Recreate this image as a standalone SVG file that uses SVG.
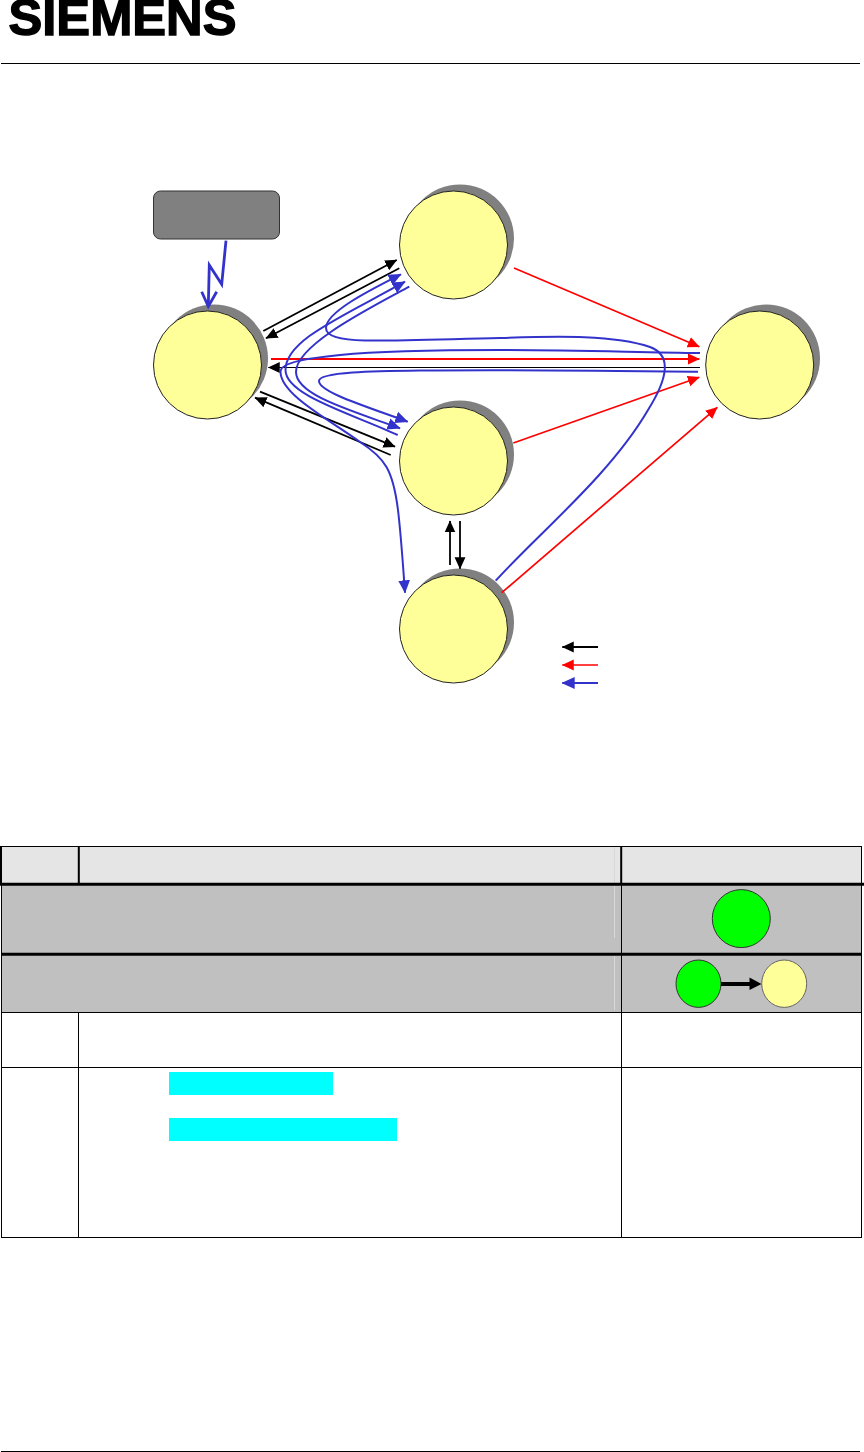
<svg xmlns="http://www.w3.org/2000/svg" width="864" height="1452" viewBox="0 0 864 1452">
<style>
.logo{font-family:"Liberation Sans",Arial,sans-serif;font-weight:700;font-size:50px;fill:#000;stroke:#000;stroke-width:1.4}
.shadow{fill:#808080}
.node{fill:#ffff99;stroke:#222;stroke-width:1}
.k{stroke:#000;stroke-width:1.8;fill:none;marker-end:url(#ak)}
.r{stroke:#f00;stroke-width:1.7;fill:none;marker-end:url(#ar)}
.b{stroke:#3333cc;stroke-width:2;fill:none;marker-end:url(#ab)}
.rule{stroke:#000;fill:none}
</style>
<defs>
<marker id="ak" markerUnits="userSpaceOnUse" markerWidth="12" markerHeight="12" viewBox="0 0 11 10" refX="10.5" refY="5" orient="auto"><path d="M0 0L11 5L0 10z" fill="#000"/></marker>
<marker id="ar" markerUnits="userSpaceOnUse" markerWidth="12" markerHeight="12" viewBox="0 0 11 10" refX="10.5" refY="5" orient="auto"><path d="M0 0L11 5L0 10z" fill="#f00"/></marker>
<marker id="ab" markerUnits="userSpaceOnUse" markerWidth="13" markerHeight="13" viewBox="0 0 11 10" refX="10.5" refY="5" orient="auto"><path d="M0 0L11 5L0 10z" fill="#3333cc"/></marker>
</defs>
<rect width="864" height="1452" fill="#fff"/>
<g id="header">
<text class="logo" x="8.5" y="35.3" textLength="228" lengthAdjust="spacingAndGlyphs">SIEMENS</text>
<line class="rule" x1="1" y1="63.5" x2="860" y2="63.5" stroke-width="1"/>
</g>
<g id="footer"><line class="rule" x1="1" y1="1451.5" x2="860" y2="1451.5" stroke-width="1"/></g>

<g id="source"><rect x="153.5" y="191" width="126" height="48" rx="7" fill="#808080" stroke="#333" stroke-width="1"/></g>
<g id="node-left"><circle class="shadow" cx="214" cy="358.5" r="54"/><circle class="node" cx="207.5" cy="365" r="54"/></g>
<g id="node-top"><circle class="shadow" cx="460" cy="238.5" r="54"/><circle class="node" cx="453.5" cy="245" r="54"/></g>
<g id="node-mid"><circle class="shadow" cx="460" cy="454.5" r="54"/><circle class="node" cx="453.5" cy="461" r="54"/></g>
<g id="node-bottom"><circle class="shadow" cx="460" cy="622.5" r="54"/><circle class="node" cx="453.5" cy="629" r="54"/></g>
<g id="node-right"><circle class="shadow" cx="766" cy="358.5" r="54"/><circle class="node" cx="759.7" cy="365" r="54"/></g>

<g id="connectors">
<path d="M226 240.7L221.7 284.3L209.3 265L208.3 306" fill="none" stroke="#3333cc" stroke-width="2.8"/>
<path d="M201.7 291.7L208.3 306.5L216.7 291.7" fill="none" stroke="#3333cc" stroke-width="2.8"/>
<path class="k" d="M263.3 331L396.7 260"/>
<path class="k" d="M399.3 268.3L266 338.3"/>
<path class="k" d="M260 391.7L395 446.7"/>
<path class="k" d="M390.7 455L255 397.7"/>
<path class="k" d="M700 367.5L268.3 367.5" style="stroke-width:1"/>
<path class="k" d="M450 565L450 521"/>
<path class="k" d="M460 521L460 568.7"/>
<path class="r" d="M271 359L699.3 359" style="stroke-width:2"/>
<path class="r" d="M514 268L699.3 346.7"/>
<path class="r" d="M513.3 443L699.3 377.3"/>
<path class="r" d="M501.7 592.7L717.3 407.3"/>
<path class="b" d="M495.7 580.7C540 532 610 475 648 410C668 378 672 355 650 347C615 335 560 336 500 338C450 339 400 341 365 340.5C340 340 326 336 326 328C326 312 370 290 401 274.3"/>
<path class="b" d="M700 353C640 352.5 580 350 500 350C440 350 380 351 340 355C310 358 280 362 280.5 372C281 395 330 420 360 442C385 458 393 470 398 510C401 535 403 565 405 592.7"/>
<path class="b" d="M698 371.7C640 371 520 369.5 420 370.5C375 371 319 372 319 381C319 392 365 406 407.7 421.7"/>
<path class="b" d="M409.3 286.7C370 308 296 345 296 372C296 395 350 410 400 428.3"/>
<path class="b" d="M397.7 435C350 413 285.5 395 285.5 370C285.5 340 340 318 405 281.7"/>
<path class="k" d="M598 647L562.3 647"/>
<path class="r" d="M598 665L562.3 665"/>
<path class="b" d="M598 683L562.3 683"/>
</g>

<g id="table">
<rect x="1" y="847" width="860" height="37" fill="#e5e5e5"/>
<rect x="1" y="885" width="860" height="69" fill="#c0c0c0"/>
<rect x="1" y="955" width="860" height="58" fill="#c0c0c0"/>
<rect x="169" y="1072" width="164" height="23" fill="#00ffff"/>
<rect x="169" y="1118" width="228" height="23" fill="#00ffff"/>
<path d="M614.5 847V883M614.5 886V938M614.5 956V1010" stroke="#d9d9d9" stroke-width="1" fill="none"/>
<line class="rule" x1="0" y1="846.5" x2="862" y2="846.5" stroke-width="1"/>
<line class="rule" x1="0" y1="884.2" x2="864" y2="884.2" stroke-width="3"/>
<line class="rule" x1="1" y1="954.3" x2="862" y2="954.3" stroke-width="3"/>
<line class="rule" x1="1" y1="1012.5" x2="862" y2="1012.5" stroke-width="1"/>
<line class="rule" x1="1" y1="1067.5" x2="862" y2="1067.5" stroke-width="1"/>
<line class="rule" x1="1" y1="1237.5" x2="862" y2="1237.5" stroke-width="1"/>
<line class="rule" x1="1" y1="846" x2="1" y2="884" stroke-width="2"/>
<line class="rule" x1="1.5" y1="884" x2="1.5" y2="1238" stroke-width="1"/>
<line class="rule" x1="78.8" y1="846" x2="78.8" y2="884" stroke-width="2"/>
<line class="rule" x1="78.5" y1="1012" x2="78.5" y2="1238" stroke-width="1"/>
<line class="rule" x1="621.2" y1="846" x2="621.2" y2="884" stroke-width="2"/>
<line class="rule" x1="621.5" y1="884" x2="621.5" y2="1238" stroke-width="1"/>
<line class="rule" x1="861.5" y1="846" x2="861.5" y2="1238" stroke-width="1"/>
</g>
<g id="state-green"><circle cx="741.3" cy="918.6" r="29" fill="#00ff00" stroke="#333" stroke-width="1"/></g>
<g id="state-transition">
<ellipse cx="698.5" cy="983.7" rx="22.5" ry="23.7" fill="#00ff00" stroke="#333" stroke-width="1"/>
<ellipse cx="784.2" cy="983.7" rx="22.5" ry="23.7" fill="#ffff99" stroke="#666" stroke-width="1"/>
<path d="M721 982H749.5V977.5L761.5 984L749.5 990V986H721z" fill="#000"/>
</g>
</svg>
